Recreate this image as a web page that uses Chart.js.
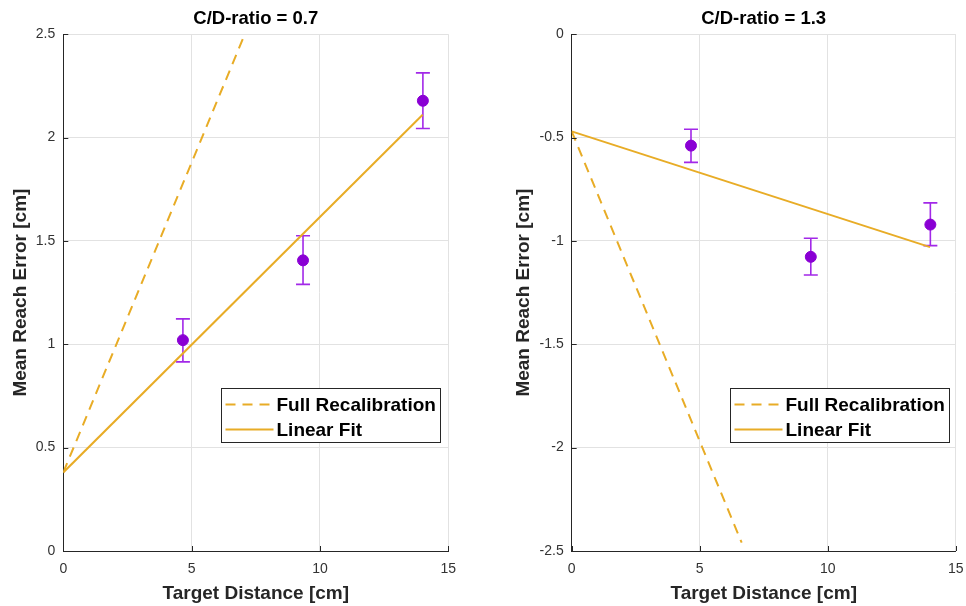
<!DOCTYPE html>
<html>
<head>
<meta charset="utf-8">
<script src="https://cdn.jsdelivr.net/npm/chart.js@4.4.1/dist/chart.umd.min.js"></script>
<style>
  html, body { margin: 0; padding: 0; background: #fff; }
  .panel { position: absolute; top: 0; width: 483px; height: 606px; }
</style>
</head>
<body>
<div class="panel" style="left:0"><canvas id="cd07"></canvas></div>
<div class="panel" style="left:483px"><canvas id="cd13"></canvas></div>
<script>
// target distances [cm]
const targetDistance = [4.66, 9.34, 14.01];

// C/D = 0.7
const meanErr07 = [1.02, 1.406, 2.178];
const errHigh07 = [1.123, 1.525, 2.313];
const errLow07 = [0.915, 1.290, 2.044];
const fitX07 = [0, 14];
const fitY07 = [0.38, 2.11];
const recalX07 = [0, 7.07];
const recalY07 = [0.38, 2.5];

// C/D = 1.3
const meanErr13 = [-0.539, -1.077, -0.921];
const errHigh13 = [-0.460, -0.987, -0.816];
const errLow13 = [-0.620, -1.165, -1.023];
const fitX13 = [0, 14];
const fitY13 = [-0.47, -1.03];
const recalX13 = [0, 6.64];
const recalY13 = [-0.47, -2.46];

const legendLabels = ['Full Recalibration', 'Linear Fit'];

const GOLD = 'rgb(232,172,38)';
const PURPLE = 'rgb(138,0,212)';
const BAR = 'rgb(162,40,232)';
const AXIS = '#262626';
const FONT = '"Liberation Sans", Arial, sans-serif';

const toPts = (xs, ys) => xs.map((x, i) => ({ x, y: ys[i] }));

// vertical error bars with caps, drawn under the markers
const errorBars = {
    id: 'errorBars',
    beforeDatasetsDraw(chart) {
        const ctx = chart.ctx;
        const ys = chart.scales.y;
        chart.data.datasets.forEach((ds, i) => {
            if (!ds.errLow) return;
            const meta = chart.getDatasetMeta(i);
            meta.data.forEach((pt, j) => {
                const top = ys.getPixelForValue(ds.errHigh[j]);
                const bot = ys.getPixelForValue(ds.errLow[j]);
                ctx.save();
                ctx.strokeStyle = BAR;
                ctx.lineWidth = 1.6;
                ctx.beginPath();
                ctx.moveTo(pt.x, top); ctx.lineTo(pt.x, bot);
                ctx.moveTo(pt.x - 7, top); ctx.lineTo(pt.x + 7, top);
                ctx.moveTo(pt.x - 7, bot); ctx.lineTo(pt.x + 7, bot);
                ctx.stroke();
                ctx.restore();
            });
        });
    }
};

// short inward tick marks on the left and bottom axes
const innerTicks = {
    id: 'innerTicks',
    afterDatasetsDraw(chart) {
        const { ctx, chartArea: a, scales } = chart;
        ctx.save();
        ctx.strokeStyle = AXIS;
        ctx.lineWidth = 1;
        ctx.beginPath();
        scales.y.ticks.forEach(t => {
            const y = Math.round(scales.y.getPixelForValue(t.value)) + 0.5;
            ctx.moveTo(a.left, y); ctx.lineTo(a.left + 5, y);
        });
        scales.x.ticks.forEach(t => {
            const x = Math.round(scales.x.getPixelForValue(t.value)) + 0.5;
            ctx.moveTo(x, a.bottom); ctx.lineTo(x, a.bottom - 5);
        });
        ctx.stroke();
        ctx.restore();
    }
};

// boxed legend in the lower right of the plot area
const boxLegend = {
    id: 'boxLegend',
    afterDraw(chart) {
        const { ctx, chartArea: a } = chart;
        const bx = Math.round(a.left + 158) + 0.5;
        const by = Math.round(a.top + 354) + 0.5;
        const bw = 219, bh = 54;
        ctx.save();
        ctx.fillStyle = '#fff';
        ctx.fillRect(bx, by, bw, bh);
        ctx.strokeStyle = AXIS;
        ctx.lineWidth = 1;
        ctx.strokeRect(bx, by, bw, bh);
        ctx.font = 'bold 19px ' + FONT;
        ctx.textBaseline = 'middle';
        legendLabels.forEach((label, i) => {
            const y = by + 16 + i * 25;
            ctx.strokeStyle = GOLD;
            ctx.lineWidth = 2;
            ctx.setLineDash(i === 0 ? [10, 7] : []);
            ctx.beginPath();
            ctx.moveTo(bx + 4, y); ctx.lineTo(bx + 52, y);
            ctx.stroke();
            ctx.setLineDash([]);
            ctx.fillStyle = '#000';
            ctx.fillText(label, bx + 55, y + 1);
        });
        ctx.restore();
    }
};

function makeChart(id, cfg) {
    return new Chart(document.getElementById(id), {
        type: 'scatter',
        data: {
            datasets: [
                {
                    label: 'Full Recalibration',
                    data: toPts(cfg.recalX, cfg.recalY),
                    showLine: true, pointRadius: 0,
                    borderColor: GOLD, borderWidth: 2, borderDash: [10, 7]
                },
                {
                    label: 'Linear Fit',
                    data: toPts(cfg.fitX, cfg.fitY),
                    showLine: true, pointRadius: 0,
                    borderColor: GOLD, borderWidth: 2
                },
                {
                    label: 'Mean',
                    data: toPts(targetDistance, cfg.mean),
                    errLow: cfg.errLow, errHigh: cfg.errHigh,
                    pointRadius: 5.5,
                    pointBackgroundColor: PURPLE, pointBorderColor: PURPLE
                }
            ]
        },
        options: {
            responsive: true,
            maintainAspectRatio: false,
            animation: false,
            layout: { padding: { left: 0, right: cfg.padRight, top: 0, bottom: 0 } },
            plugins: {
                legend: { display: false },
                tooltip: { enabled: false },
                title: {
                    display: true, text: cfg.title, fullSize: false,
                    color: '#000', font: { family: FONT, size: 18.5, weight: 'bold' },
                    padding: { top: 8, bottom: 4 }
                }
            },
            scales: {
                x: {
                    type: 'linear', min: 0, max: 15,
                    afterFit: s => { s.height = 55; s.paddingLeft = 0; s.paddingRight = 0; },
                    ticks: { stepSize: 5, color: '#333', padding: 10, font: { family: FONT, size: 14 } },
                    grid: { color: '#e2e2e2', drawTicks: false },
                    border: { color: AXIS, width: 1 },
                    title: {
                        display: true, text: 'Target Distance [cm]', color: '#262626',
                        font: { family: FONT, size: 19, weight: 'bold' },
                        padding: { top: 0, bottom: 1 }
                    }
                },
                y: {
                    type: 'linear', min: cfg.yMin, max: cfg.yMax,
                    afterFit: s => { s.width = cfg.yWidth; s.paddingTop = 0; s.paddingBottom = 0; },
                    ticks: {
                        stepSize: 0.5, color: '#333', padding: 8,
                        font: { family: FONT, size: 14 },
                        callback: v => String(v)
                    },
                    grid: { color: '#e2e2e2', drawTicks: false },
                    border: { color: AXIS, width: 1 },
                    title: {
                        display: true, text: 'Mean Reach Error [cm]', color: '#262626',
                        font: { family: FONT, size: 19, weight: 'bold' },
                        padding: { top: cfg.yTitlePad, bottom: 0 }
                    }
                }
            }
        },
        plugins: [errorBars, innerTicks, boxLegend]
    });
}

makeChart('cd07', {
    title: 'C/D-ratio = 0.7',
    mean: meanErr07, errLow: errLow07, errHigh: errHigh07,
    fitX: fitX07, fitY: fitY07, recalX: recalX07, recalY: recalY07,
    yMin: 0, yMax: 2.5, yWidth: 63.3, yTitlePad: 9.2, padRight: 34.7
});

makeChart('cd13', {
    title: 'C/D-ratio = 1.3',
    mean: meanErr13, errLow: errLow13, errHigh: errHigh13,
    fitX: fitX13, fitY: fitY13, recalX: recalX13, recalY: recalY13,
    yMin: -2.5, yMax: 0, yWidth: 88.7, yTitlePad: 29.2, padRight: 10.3
});
</script>
</body>
</html>
